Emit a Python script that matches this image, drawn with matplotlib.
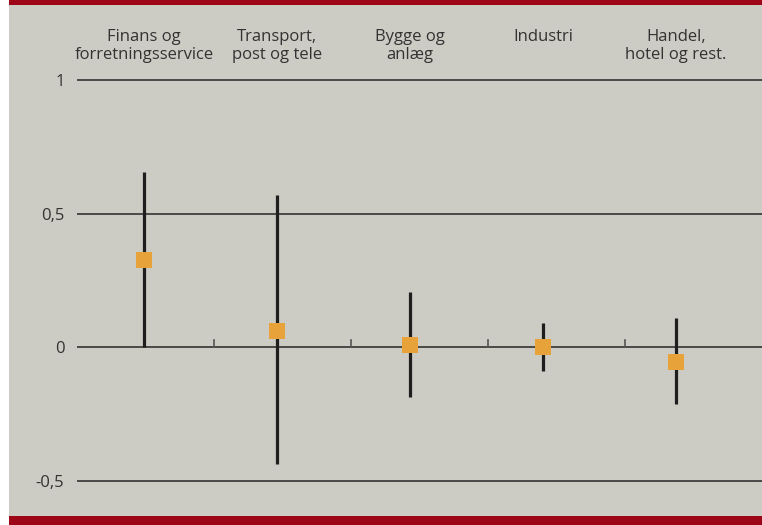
import numpy as np
import matplotlib as mpl
mpl.use('Agg')
import matplotlib.pyplot as plt
import matplotlib.transforms as mtransforms

# sector estimates with lower/upper bounds
sectors = ['Finans og\nforretningsservice', 'Transport,\npost og tele',
           'Bygge og\nanlæg', 'Industri', 'Handel,\nhotel og rest.']
estimate = [0.326, 0.061, 0.008, 0.0, -0.055]
lower = [0.0, -0.438, -0.186, -0.089, -0.213]
upper = [0.655, 0.569, 0.209, 0.092, 0.109]
yticks = [-0.5, 0, 0.5, 1]
ytick_labels = ['-0,5', '0', '0,5', '1']

BG = '#cccbc4'
RED = '#9c0616'
ORANGE = '#e8a23a'
TXT = '#333333'

plt.rcParams['font.family'] = ['Open Sans', 'DejaVu Sans']

W, H = 762, 525
fig = plt.figure(figsize=(W / 100, H / 100), dpi=100)
fig.patch.set_facecolor('white')

# grey panel with red bands top and bottom
fig.add_artist(plt.Rectangle((9 / W, 0), 1, 1, transform=fig.transFigure,
                             facecolor=BG, edgecolor='none', zorder=0))
fig.add_artist(plt.Rectangle((9 / W, 1 - 5 / H), 1, 5 / H, transform=fig.transFigure,
                             facecolor=RED, edgecolor='none', zorder=1))
fig.add_artist(plt.Rectangle((9 / W, 0), 1, 9 / H, transform=fig.transFigure,
                             facecolor=RED, edgecolor='none', zorder=1))

ax = fig.add_axes([77 / W, 9 / H, 1 - 77 / W, (516 - 5) / H])
ax.set_facecolor('none')
for s in ax.spines.values():
    s.set_visible(False)

x = np.arange(len(sectors))
ax.set_xlim(-0.504, 4.647)
ax.set_ylim(-0.631, 1.281)

for yv in yticks:
    ax.axhline(yv, color='#333333', lw=1.2, zorder=1)

# small separator ticks on the zero line
trans = mtransforms.blended_transform_factory(ax.transAxes, ax.transData)
for fx in [0.2, 0.4, 0.6, 0.8]:
    ax.plot([fx, fx], [0, 0.026], color='#555555', lw=1.2, transform=trans, zorder=1)

ax.vlines(x, lower, upper, color='#1e1e1e', lw=2.3, zorder=2)
ax.plot(x, estimate, 's', color=ORANGE, markersize=11.5, markeredgewidth=0, zorder=3)

ax.set_yticks(yticks)
ax.set_yticklabels(ytick_labels)
ax.tick_params(axis='y', length=0, pad=9, labelsize=12, labelcolor=TXT)
ax.set_xticks([])

for xi, name in zip(x, sectors):
    ax.text(xi, 1.19, name, ha='center', va='top', fontsize=12,
            color=TXT, linespacing=1.15)

fig.savefig('out.png', dpi=100)
